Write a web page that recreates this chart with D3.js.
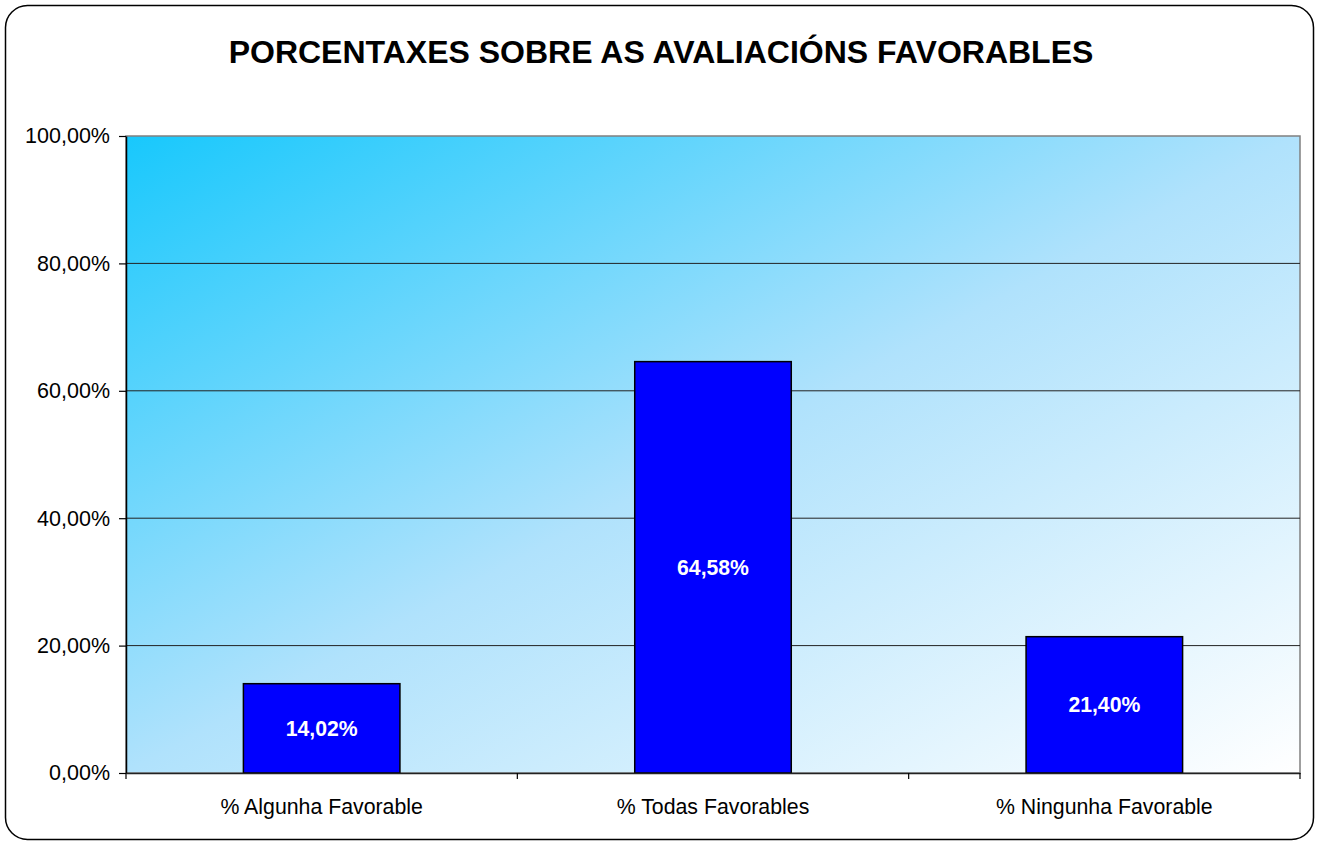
<!DOCTYPE html>
<html><head><meta charset="utf-8">
<script src="https://cdn.jsdelivr.net/npm/d3@7"></script>
<style>body{margin:0;background:#fff;}svg{display:block;}</style>
</head><body>
<script>
const title = "PORCENTAXES SOBRE AS AVALIACIÓNS FAVORABLES";
const categories = ["% Algunha Favorable", "% Todas Favorables", "% Ningunha Favorable"];
const values = [14.02, 64.58, 21.40];
const valueLabels = ["14,02%", "64,58%", "21,40%"];
const yTicks = [0, 20, 40, 60, 80, 100];
const yTickLabels = ["0,00%", "20,00%", "40,00%", "60,00%", "80,00%", "100,00%"];

(function () {
const W = 1318, H = 843;
const FONT = "Liberation Sans, Arial, sans-serif";
const svg = d3.select("body").append("svg").attr("width", W).attr("height", H);
const defs = svg.append("defs");
const pL = 126, pR = 1300, pT = 136, pB = 773;
const grad = defs.append("linearGradient").attr("id", "bg")
  .attr("x1", 0).attr("y1", 0).attr("x2", 1).attr("y2", 1);
grad.append("stop").attr("offset", "0").attr("stop-color", "#18c8fc");
grad.append("stop").attr("offset", "0.5").attr("stop-color", "#b0e2fc");
grad.append("stop").attr("offset", "1").attr("stop-color", "#ffffff");

// outer frame
svg.append("rect").attr("x", 5.5).attr("y", 5.5).attr("width", 1308).attr("height", 834)
  .attr("rx", 22).attr("ry", 22).attr("fill", "#fff").attr("stroke", "#000").attr("stroke-width", 1.5);

svg.append("text").attr("x", 661).attr("y", 63).attr("text-anchor", "middle")
  .attr("font-family", FONT).attr("font-weight", "bold")
  .attr("font-size", 32).attr("fill", "#000").text(title);

const x = d3.scaleBand().domain(categories).range([pL, pR]).paddingInner(0).paddingOuter(0);
const y = d3.scaleLinear().domain([0, 100]).range([pB, pT]);

svg.append("rect").attr("x", pL).attr("y", pT).attr("width", pR - pL).attr("height", pB - pT)
  .attr("fill", "url(#bg)").attr("stroke", "#808080").attr("stroke-width", 1.5);

// gridlines
svg.append("g").selectAll("line").data(yTicks.filter(d => d > 0 && d < 100)).join("line")
  .attr("x1", pL).attr("x2", pR).attr("y1", d => y(d)).attr("y2", d => y(d))
  .attr("stroke", "#222").attr("stroke-width", 1);

// y axis
const yAxis = d3.axisLeft(y).tickValues(yTicks).tickSize(7).tickSizeOuter(0)
  .tickFormat((d, i) => yTickLabels[i]);
const gy = svg.append("g").attr("transform", `translate(${pL},0)`).call(yAxis);
gy.attr("font-size", null).attr("font-family", null);
gy.select(".domain").attr("stroke", "#000").attr("stroke-width", 1.5);
gy.selectAll(".tick line").attr("stroke", "#000").attr("stroke-width", 1.2);
gy.selectAll(".tick text").attr("font-family", FONT)
  .attr("font-size", 21.5).attr("fill", "#000").attr("x", -16);

// bars
const barW = x.bandwidth() * 0.4;
svg.append("g").selectAll("rect").data(values).join("rect")
  .attr("x", (d, i) => x(categories[i]) + (x.bandwidth() - barW) / 2)
  .attr("y", d => y(d)).attr("width", barW).attr("height", d => pB - y(d))
  .attr("fill", "#0000ff").attr("stroke", "#000").attr("stroke-width", 1.5);

svg.append("g").selectAll("text").data(values).join("text")
  .attr("x", (d, i) => x(categories[i]) + x.bandwidth() / 2)
  .attr("y", d => (y(d) + pB) / 2 + 7.5)
  .attr("text-anchor", "middle").attr("font-family", FONT)
  .attr("font-weight", "bold").attr("font-size", 21.2).attr("fill", "#fff")
  .text((d, i) => valueLabels[i]);

// x axis
const xAxis = d3.axisBottom(x).tickSize(0).tickSizeOuter(0);
const gx = svg.append("g").attr("transform", `translate(0,${pB})`).call(xAxis);
gx.attr("font-size", null).attr("font-family", null);
gx.select(".domain").attr("stroke", "#222").attr("stroke-width", 1.5);
gx.selectAll(".tick text").attr("font-family", FONT)
  .attr("font-size", 21.3).attr("fill", "#000").attr("dy", 0).attr("y", 41);
// category separator ticks
const seps = categories.map(c => x(c)).concat([pR]);
gx.append("g").selectAll("line").data(seps).join("line")
  .attr("x1", d => d).attr("x2", d => d).attr("y1", 0).attr("y2", 6)
  .attr("stroke", "#000").attr("stroke-width", 1.2);
})();
</script>
</body></html>
